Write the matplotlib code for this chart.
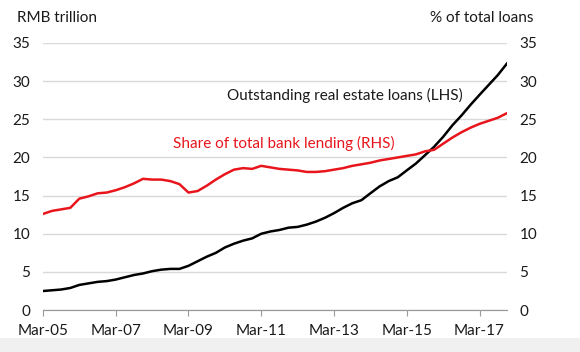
import numpy as np
import pandas as pd
import matplotlib
matplotlib.use("Agg")
import matplotlib.pyplot as plt
import matplotlib.dates as mdates
from matplotlib.patches import Rectangle

plt.rcParams["font.family"] = ["Lato", "DejaVu Sans"]

# quarterly, Mar-05 .. Dec-17
dates = pd.date_range("2005-03-01", periods=52, freq="QS-MAR")

# outstanding real estate loans, RMB trillion (LHS)
re_loans = [
    2.5, 2.6, 2.7, 2.9, 3.3, 3.5, 3.7, 3.8,
    4.0, 4.3, 4.6, 4.8, 5.1, 5.3, 5.4, 5.4,
    5.8, 6.4, 7.0, 7.5, 8.2, 8.7, 9.1, 9.4,
    10.0, 10.3, 10.5, 10.8, 10.9, 11.2, 11.6, 12.1,
    12.7, 13.4, 14.0, 14.4, 15.3, 16.2, 16.9, 17.4,
    18.3, 19.2, 20.3, 21.4, 22.7, 24.2, 25.5, 26.9,
    28.2, 29.5, 30.8, 32.3,
]

# share of total bank lending, % (RHS)
share = [
    12.6, 13.0, 13.2, 13.4, 14.6, 14.9, 15.3, 15.4,
    15.7, 16.1, 16.6, 17.2, 17.1, 17.1, 16.9, 16.5,
    15.4, 15.6, 16.3, 17.1, 17.8, 18.4, 18.6, 18.5,
    18.9, 18.7, 18.5, 18.4, 18.3, 18.1, 18.1, 18.2,
    18.4, 18.6, 18.9, 19.1, 19.3, 19.6, 19.8, 20.0,
    20.2, 20.4, 20.8, 21.0, 21.8, 22.6, 23.3, 23.9,
    24.4, 24.8, 25.2, 25.8,
]

y_ticks = [0, 5, 10, 15, 20, 25, 30, 35]
x_ticks = pd.to_datetime(["2005-03-01", "2007-03-01", "2009-03-01",
                          "2011-03-01", "2013-03-01", "2015-03-01", "2017-03-01"])

RED = "#e8161c"
GRID = "#d9d9d9"
TXT = "#1a1a1a"

fig = plt.figure(figsize=(5.8, 3.52), dpi=100)
fig.patches.append(Rectangle((0, 0), 1, 14 / 352, transform=fig.transFigure,
                             facecolor="#f0f0f0", edgecolor="none", zorder=0))

ax = fig.add_axes([0.074, 0.119, 0.800, 0.759])
ax2 = ax.twinx()

ax.plot(dates, re_loans, color="black", lw=1.8, zorder=3)
ax2.plot(dates, share, color=RED, lw=1.8, zorder=3)

for a in (ax, ax2):
    a.set_ylim(0, 35)
    a.set_yticks(y_ticks)
    for s in ("left", "right", "top"):
        a.spines[s].set_visible(False)
    a.spines["bottom"].set_color("#9a9a9a")
ax.set_xlim(dates[0], dates[-1])
ax.set_xticks(x_ticks)
ax.xaxis.set_major_formatter(mdates.DateFormatter("Mar-%y"))

ax.yaxis.grid(True, color=GRID, lw=1.0)
ax.set_axisbelow(True)
ax.tick_params(axis="y", length=0, pad=9, labelsize=11, labelcolor=TXT)
ax2.tick_params(axis="y", length=0, pad=9, labelsize=11, labelcolor=TXT)
ax.tick_params(axis="x", length=4, width=0.8, color="#9a9a9a", pad=6,
               labelsize=11, labelcolor=TXT)

ax.text(0.397, 0.805, "Outstanding real estate loans (LHS)", transform=ax.transAxes,
        fontsize=11, color=TXT, va="center", ha="left")
ax.text(0.28, 0.625, "Share of total bank lending (RHS)", transform=ax.transAxes,
        fontsize=11, color=RED, va="center", ha="left")

fig.text(0.029, 0.949, "RMB trillion", fontsize=11, color=TXT, va="center", ha="left")
fig.text(0.919, 0.949, "% of total loans", fontsize=11, color=TXT, va="center", ha="right")

fig.savefig("out.png", dpi=100)
